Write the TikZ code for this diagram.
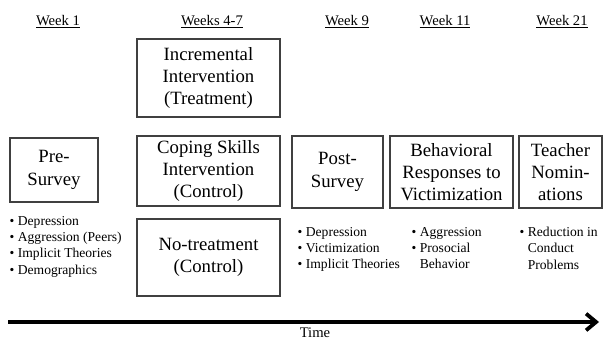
\documentclass[tikz,border=0pt]{standalone}
\usepackage{fontspec}
\setmainfont{Liberation Serif}
\usetikzlibrary{positioning}
\usetikzlibrary{arrows.meta}

\begin{document}
\begin{tikzpicture}[
    x=0.03cm, y=-0.03cm,
    box/.style={draw=black!75, line width=0.9pt, align=center, inner sep=0pt,
        font=\fontsize{16}{19}\selectfont},
    week/.style={font=\fontsize{12.5}{15}\selectfont},
    list/.style={align=left, inner sep=0pt, anchor=north west,
        font=\fontsize{11.6}{14}\selectfont},
    >={Straight Barb[length=3mm, width=5mm]},
    node distance=0.4cm
]
    \useasboundingbox (0,0) rectangle (603,341);

    % Week headers
    \node[week] (w1) at (58,22) {\underline{Week 1}};
    \node[week] (w4) at (212,22) {\underline{Weeks 4-7}};
    \node[week] (w9) at (347,22) {\underline{Week 9}};
    \node[week] (w11) at (445,22) {\underline{Week 11}};
    \node[week] (w21) at (562,22) {\underline{Week 21}};

    % Measurement boxes
    \node[box, minimum width=2.64cm, minimum height=1.92cm] (pre) at (54,170) {Pre-\\Survey};
    \node[box, minimum width=2.73cm, minimum height=2.16cm] (post) at (337.5,172) {Post-\\Survey};
    \node[box, minimum width=3.69cm, minimum height=2.16cm] (behav) at (451.5,172) {Behavioral\\Responses to\\Victimization};
    \node[box, minimum width=2.49cm, minimum height=2.16cm] (teacher) at (560.5,172) {Teacher\\Nomin-\\ations};

    % Intervention conditions
    \node[box, minimum width=4.29cm, minimum height=2.34cm] (incr) at (208.5,78) {Incremental\\Intervention\\(Treatment)};
    \node[box, minimum width=4.29cm, minimum height=2.1cm] (coping) at (208.5,171) {Coping Skills\\Intervention\\(Control)};
    \node[box, minimum width=4.29cm, minimum height=2.31cm] (notreat) at (208.5,257.5) {No-treatment\\(Control)};

    % Measures
    \node[list, below=0.4cm of pre.south west, anchor=north west] (prelist)
        {\textbullet\ Depression\\\textbullet\ Aggression (Peers)\\\textbullet\ Implicit Theories\\\textbullet\ Demographics};
    \node[list, below=0.55cm of post.south west, anchor=north west, xshift=0.18cm] (postlist)
        {\textbullet\ Depression\\\textbullet\ Victimization\\\textbullet\ Implicit Theories};
    \node[list, below=0.55cm of behav.south west, anchor=north west, xshift=0.66cm] (behavlist)
        {\textbullet\ Aggression\\\textbullet\ Prosocial\\\phantom{\textbullet\ }Behavior};
    \node[list, below=0.55cm of teacher.south west, anchor=north west, xshift=0.03cm] (teacherlist)
        {\textbullet\ Reduction in\\\phantom{\textbullet\ }Conduct\\\phantom{\textbullet\ }Problems};

    % Time axis
    \coordinate (tstart) at (8,322);
    \coordinate (tend) at (599,322);
    \draw[->, line width=3.2pt] (tstart) -- (tend);
    \node[week] (time) at (315,332.5) {Time};
\end{tikzpicture}
\end{document}
